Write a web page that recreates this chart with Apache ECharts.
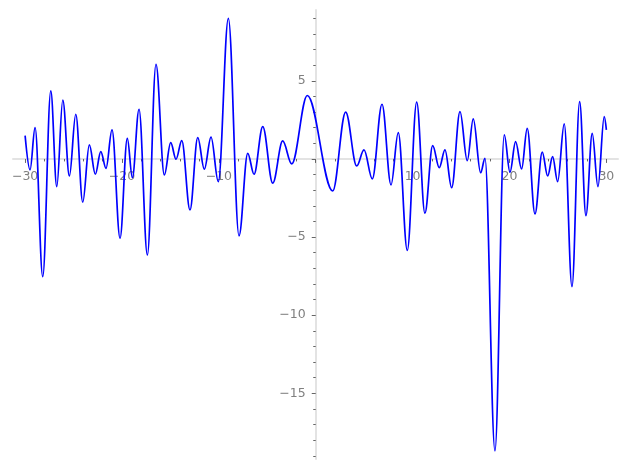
<!DOCTYPE html>
<html>
<head>
<meta charset="utf-8">
<script src="https://cdn.jsdelivr.net/npm/echarts@6/dist/echarts.min.js"></script>
<style>
  html, body { margin: 0; padding: 0; background: #ffffff; }
  #chart { width: 627px; height: 470px; }
</style>
</head>
<body>
<div id="chart"></div>
<script>
// Curve: start, local extrema, end
const curveX = [
  -30.00, -29.49, -28.97, -28.18, -27.35, -26.73, -26.11, -25.43, -24.77, -24.05,
  -23.37, -22.75, -22.19, -21.65, -21.03, -20.20, -19.45, -18.93, -18.24, -17.38,
  -16.49, -15.63, -14.97, -14.42, -13.83, -12.98, -12.18, -11.50, -10.81, -10.06,
  -9.02, -7.92, -7.02, -6.37, -5.47, -4.44, -3.41, -2.48, -0.87, 1.75,
  3.09, 4.23, 4.98, 5.84, 6.84, 7.77, 8.52, 9.45, 10.42, 11.27,
  12.07, 12.75, 13.34, 14.03, 14.89, 15.64, 16.26, 17.02, 17.47, 18.50,
  19.46, 20.05, 20.63, 21.25, 21.83, 22.63, 23.38, 23.94, 24.45, 24.97,
  25.65, 26.45, 27.24, 27.89, 28.54, 29.13, 29.78, 30.00
];
const curveY = [
  1.49, -0.70, 2.00, -7.53, 4.35, -1.77, 3.77, -1.09, 2.86, -2.77,
  0.90, -0.98, 0.47, -0.60, 1.86, -5.07, 1.32, -1.20, 3.18, -6.14,
  6.06, -1.02, 1.04, -0.02, 1.17, -3.26, 1.36, -0.66, 1.39, -1.45,
  9.00, -4.92, 0.36, -0.98, 2.07, -1.55, 1.15, -0.32, 4.06, -2.05,
  3.00, -0.45, 0.58, -1.28, 3.50, -1.66, 1.68, -5.85, 3.63, -3.47,
  0.85, -0.56, 0.58, -1.84, 3.03, -0.11, 2.56, -0.88, 0.04, -18.68,
  1.54, -0.85, 1.11, -0.64, 1.96, -3.52, 0.43, -1.09, 0.15, -1.45,
  2.24, -8.17, 3.67, -3.63, 1.64, -1.77, 2.71, 1.86
];

// Axis ticks and labels
const xTickValues = [-30, -20, -10, 0, 10, 20, 30];
const xTickLabels = [-30, -20, -10, 10, 20, 30];
const yTickValues = [-15, -10, -5, 0, 5];
const yTickLabels = [-15, -10, -5, 5];

const seriesData = curveX.map((x, i) => [x, curveY[i]]);

const fmt = v => String(v).replace('-', '\u2212');
const labelStyle = { color: '#808080', fontSize: 12.5, fontFamily: 'DejaVu Sans' };
const axisLineStyle = { color: '#e3e3e3', width: 2 };
const tickStyle = { color: '#666666', width: 1 };

const W = 627, H = 470;
const grid = { left: 13, right: 9, top: 10, bottom: 11, containLabel: false, outerBoundsMode: 'none' };

const chart = echarts.init(document.getElementById('chart'), null, { renderer: 'canvas' });
const option = {
  animation: false,
  backgroundColor: '#ffffff',
  grid: grid,
  xAxis: {
    type: 'value',
    position: 'bottom',
    offset: 0,
    min: -31.25,
    max: 31.2,
    axisLine: { show: true, onZero: false, lineStyle: axisLineStyle },
    axisTick: { show: true, customValues: xTickValues, length: 4, lineStyle: tickStyle },
    minorTick: { show: true, splitNumber: 5, length: 2.5, lineStyle: tickStyle },
    axisLabel: Object.assign({ customValues: xTickLabels, formatter: fmt, margin: 11 }, labelStyle),
    splitLine: { show: false },
    minorSplitLine: { show: false }
  },
  yAxis: {
    type: 'value',
    position: 'left',
    offset: 0,
    min: -19.2,
    max: 9.53,
    axisLine: { show: true, onZero: false, lineStyle: axisLineStyle },
    axisTick: { show: true, customValues: yTickValues, length: 4, lineStyle: tickStyle },
    minorTick: { show: true, splitNumber: 5, length: 2.5, lineStyle: tickStyle },
    axisLabel: Object.assign({ customValues: yTickLabels, formatter: fmt, margin: 10 }, labelStyle),
    splitLine: { show: false },
    minorSplitLine: { show: false }
  },
  series: [{
    type: 'line',
    data: seriesData,
    showSymbol: false,
    symbol: 'none',
    smooth: 0.36,
    smoothMonotone: 'x',
    lineStyle: { color: '#0000ff', width: 1.7 },
    itemStyle: { color: '#0000ff' },
    clip: false,
    z: 5
  }]
};
chart.setOption(option);

// Move both axes so that they cross at the origin (library's own scale).
const origin = chart.convertToPixel({ gridIndex: 0 }, [0, 0]);
const gridBottomPx = H - grid.bottom;
chart.setOption({
  xAxis: { offset: origin[1] - gridBottomPx },
  yAxis: { offset: grid.left - origin[0] }
});
</script>
</body>
</html>
